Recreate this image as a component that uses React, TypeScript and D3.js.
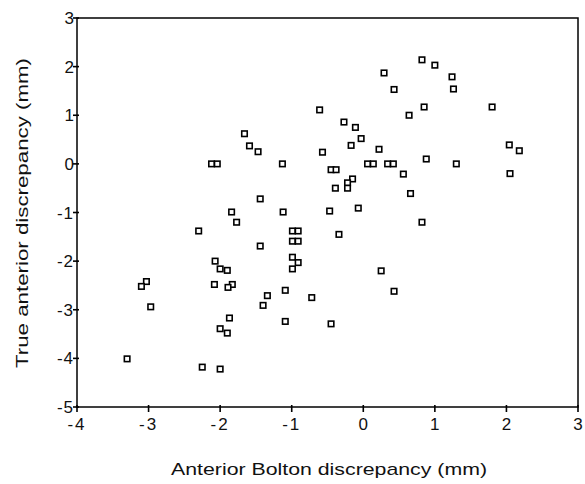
import React from "react";
import * as d3 from "d3";

const boltonX: number[] = [
  -0.61, -2.12, -2.04, -1.66, -1.59, -1.47, -1.13, -1.44, -1.84, -1.12,
  0.82, 1.0, 0.29, 1.24, 0.43, 1.26, 0.85, 1.8, 0.64, -0.27,
  -0.11, -0.03, -0.17, -0.57, 0.22, 2.04, 2.18, 0.06, 0.14, 0.34,
  0.42, 0.88, 1.3, 2.05, 0.56, -0.45, -0.38, -0.15, -0.22, -0.22,
  -0.39, 0.66, -0.47, -0.07, -1.77, -2.3, -0.99, -0.91, -0.99, -0.91,
  -1.44, -0.99, -0.91, -0.99, -2.07, -2.0, -1.9, -2.08, -1.83, -1.89,
  -1.09, -1.34, -0.72, -1.4, -3.03, -3.1, -2.97, -1.87, -2.0, -1.9,
  -1.09, -3.3, -2.25, -2.0, 0.82, -0.34, 0.25, 0.43, -0.45,
];
const trueY: number[] = [
  1.11, 0.0, 0.0, 0.62, 0.37, 0.25, 0.0, -0.72, -0.99, -0.99,
  2.14, 2.03, 1.87, 1.79, 1.53, 1.54, 1.17, 1.17, 1.0, 0.86,
  0.75, 0.52, 0.38, 0.24, 0.3, 0.39, 0.27, 0.0, 0.0, 0.0,
  0.0, 0.1, 0.0, -0.2, -0.21, -0.12, -0.12, -0.31, -0.39, -0.5,
  -0.5, -0.61, -0.97, -0.91, -1.2, -1.38, -1.38, -1.38, -1.59, -1.59,
  -1.69, -1.92, -2.03, -2.16, -2.0, -2.16, -2.19, -2.48, -2.48, -2.54,
  -2.6, -2.71, -2.75, -2.91, -2.42, -2.52, -2.94, -3.17, -3.39, -3.48,
  -3.24, -4.01, -4.18, -4.22, -1.2, -1.45, -2.2, -2.62, -3.29,
];
const xTicks: number[] = [-4, -3, -2, -1, 0, 1, 2, 3];
const yTicks: number[] = [-5, -4, -3, -2, -1, 0, 1, 2, 3];
const xTitle = "Anterior Bolton discrepancy (mm)";
const yTitle = "True anterior discrepancy (mm)";

export default function App() {
  const W = 585, H = 484;
  const left = 77, right = 578, top = 18, bottom = 407;
  const x = d3.scaleLinear().domain([-4, 3]).range([left, right]);
  const y = d3.scaleLinear().domain([-5, 3]).range([bottom, top]);
  const font = "Liberation Sans, Arial, sans-serif";
  const s = 5.5;
  return (
    <svg width={W} height={H} style={{ position: "absolute", left: 0, top: 0, background: "#fff" }}>
      <rect x={0} y={0} width={W} height={H} fill="#fff" />
      <rect x={left} y={top} width={right - left} height={bottom - top} fill="none" stroke="#000" strokeWidth={1.5} />
      {xTicks.map((t) => (
        <g key={"x" + t}>
          <line x1={x(t)} x2={x(t)} y1={bottom - 2} y2={bottom + 5} stroke="#000" strokeWidth={1.6} />
          <text x={x(t)} y={430} textAnchor="middle" fontFamily={font} fontSize={17} letterSpacing={t < 0 ? 2 : 0} fill="#111">{t}</text>
        </g>
      ))}
      {yTicks.map((t) => (
        <g key={"y" + t}>
          <line x1={left - 4} x2={left + 2} y1={y(t)} y2={y(t)} stroke="#000" strokeWidth={1.6} />
          <text x={left - 3} y={y(t) + 6} textAnchor="end" fontFamily={font} fontSize={17} letterSpacing={t < 0 ? 1 : 0} fill="#111">{t}</text>
        </g>
      ))}
      {boltonX.map((v, i) => (
        <rect key={i} x={x(v) - s / 2} y={y(trueY[i]) - s / 2} width={s} height={s} fill="#fff" stroke="#000" strokeWidth={1.6} />
      ))}
      <text x={329} y={475} textAnchor="middle" fontFamily={font} fontSize={17} textLength={316} lengthAdjust="spacingAndGlyphs" fill="#111">{xTitle}</text>
      <text transform={`translate(28, 213) rotate(-90)`} textAnchor="middle" fontFamily={font} fontSize={17} textLength={310} lengthAdjust="spacingAndGlyphs" fill="#111">{yTitle}</text>
    </svg>
  );
}
